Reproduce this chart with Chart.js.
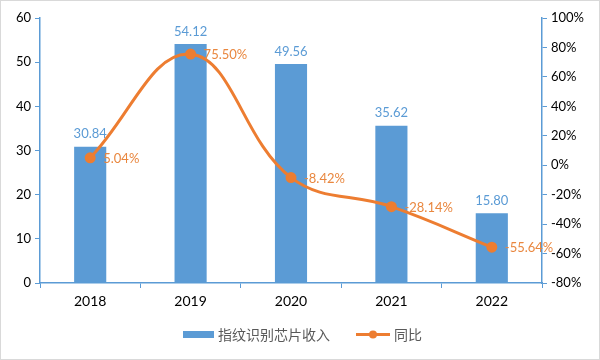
<!DOCTYPE html>
<html>
<head>
<meta charset="utf-8">
<script src="https://cdn.jsdelivr.net/npm/chart.js@4"></script>
<style>
  html, body { margin: 0; padding: 0; background: #fff; }
  #wrap { width: 600px; height: 360px; }
</style>
</head>
<body>
<div id="wrap"><canvas id="chart" width="600" height="360"></canvas></div>
<script>
const years = ["2018", "2019", "2020", "2021", "2022"];
const revenue = [30.84, 54.12, 49.56, 35.62, 15.80];
const yoy = [5.04, 75.50, -8.42, -28.14, -55.64];
const leftTicks = [0, 10, 20, 30, 40, 50, 60];
const rightTicks = [-80, -60, -40, -20, 0, 20, 40, 60, 80, 100];

const BLUE = "#5B9BD5";
const ORANGE = "#ED7D31";
const AXIS = "#5B9BD5";
const FONT = "Lato, 'Noto Sans CJK SC', sans-serif";

// labels, legend and frame drawn by hand
const extras = {
    id: "extras",
    afterDatasetsDraw(chart) {
        const ctx = chart.ctx;
        ctx.save();
        ctx.font = "13px " + FONT;

        // bar values
        ctx.fillStyle = BLUE;
        ctx.textAlign = "center";
        ctx.textBaseline = "bottom";
        chart.getDatasetMeta(0).data.forEach((bar, i) => {
            ctx.fillText(revenue[i].toFixed(2), bar.x, bar.y - 6);
        });

        // yoy values
        ctx.fillStyle = "#E9873F";
        ctx.textAlign = "left";
        ctx.textBaseline = "middle";
        chart.getDatasetMeta(1).data.forEach((pt, i) => {
            ctx.fillText(yoy[i].toFixed(2) + "%", pt.x + 13, pt.y + 1);
        });

        // legend
        ctx.font = "14px " + FONT;
        ctx.fillStyle = BLUE;
        ctx.fillRect(183, 331, 31, 7);
        ctx.fillStyle = "#595959";
        ctx.fillText("指纹识别芯片收入", 218, 335);
        ctx.strokeStyle = ORANGE;
        ctx.lineWidth = 3;
        ctx.beginPath();
        ctx.moveTo(356, 334.5);
        ctx.lineTo(390, 334.5);
        ctx.stroke();
        ctx.fillStyle = ORANGE;
        ctx.beginPath();
        ctx.arc(373, 334.5, 4, 0, Math.PI * 2);
        ctx.fill();
        ctx.fillStyle = "#595959";
        ctx.fillText("同比", 394, 335);

        // frame
        ctx.strokeStyle = "#d9d9d9";
        ctx.lineWidth = 1;
        ctx.strokeRect(0.5, 0.5, 599, 359);
        ctx.restore();
    }
};

const ctx = document.getElementById("chart").getContext("2d");
new Chart(ctx, {
    data: {
        labels: years,
        datasets: [
            {
                type: "bar",
                label: "指纹识别芯片收入",
                data: revenue,
                backgroundColor: BLUE,
                yAxisID: "y",
                barPercentage: 0.32,
                categoryPercentage: 1,
                order: 2,
            },
            {
                type: "line",
                label: "同比",
                data: yoy,
                borderColor: ORANGE,
                backgroundColor: ORANGE,
                borderWidth: 3,
                pointRadius: 4,
                pointHoverRadius: 4,
                tension: 0.4,
                yAxisID: "y1",
                order: 1,
            },
        ],
    },
    options: {
        responsive: false,
        animation: false,
        layout: { padding: { top: 18, bottom: 47, left: 0, right: 0 } },
        plugins: {
            legend: { display: false },
            tooltip: { enabled: false },
        },
        scales: {
            x: {
                grid: { display: true, drawOnChartArea: false, color: AXIS, tickLength: 5 },
                border: { color: AXIS, width: 1.5 },
                ticks: { color: "#000", font: { family: FONT, size: 14 }, padding: 5 },
                afterFit(s) { s.height = 30; },
            },
            y: {
                position: "left",
                min: 0,
                max: 60,
                afterBuildTicks(s) { s.ticks = leftTicks.map(v => ({ value: v })); },
                grid: { display: true, drawOnChartArea: false, color: AXIS, tickLength: 5 },
                border: { color: AXIS, width: 1.5 },
                ticks: { color: "#000", font: { family: FONT, size: 13 }, padding: 4 },
                afterFit(s) { s.width = 40; },
            },
            y1: {
                position: "right",
                min: -80,
                max: 100,
                afterBuildTicks(s) { s.ticks = rightTicks.map(v => ({ value: v })); },
                grid: { display: true, drawOnChartArea: false, color: AXIS, tickLength: 5 },
                border: { color: AXIS, width: 1.5 },
                ticks: {
                    color: "#000",
                    font: { family: FONT, size: 13 },
                    padding: 4,
                    callback: v => v + "%",
                },
                afterFit(s) { s.width = 58; },
            },
        },
    },
    plugins: [extras],
});
</script>
</body>
</html>
